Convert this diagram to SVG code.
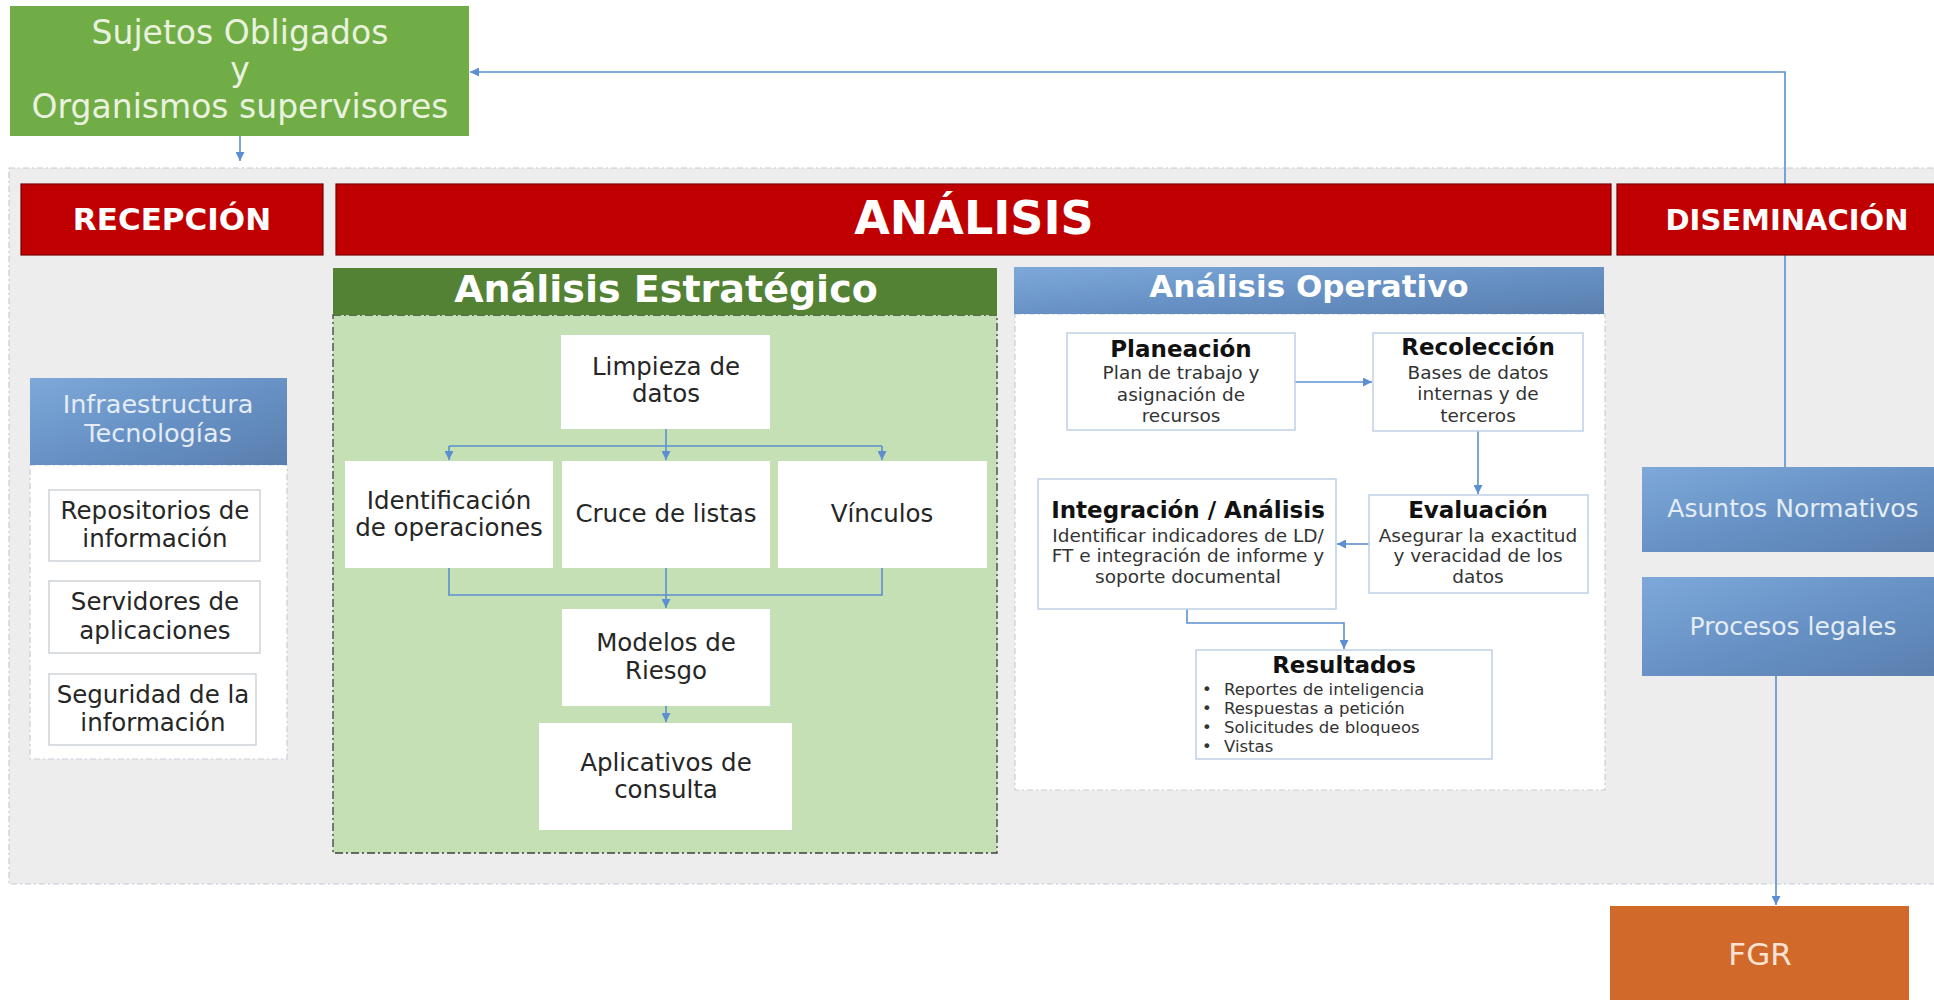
<svg xmlns="http://www.w3.org/2000/svg" width="1934" height="1000" viewBox="0 0 1934 1000">
<defs>
<linearGradient id="blueGrad" x1="0" y1="0" x2="1" y2="1">
<stop offset="0" stop-color="#7DA8D9"/>
<stop offset="0.55" stop-color="#6690C3"/>
<stop offset="1" stop-color="#5A7FAE"/>
</linearGradient>
<marker id="arr" viewBox="0 0 10 10" refX="10" refY="5" markerWidth="10" markerHeight="9" markerUnits="userSpaceOnUse" orient="auto">
<path d="M0,0 L10,5 L0,10 z" fill="#5B8FCF"/>
</marker>
<style>
text{font-family:"DejaVu Sans","Liberation Sans",sans-serif;}
.red{fill:#C00000;stroke:#7A0000;stroke-width:1.2;}
.redt{fill:#FFFFFF;font-weight:bold;text-anchor:middle;}
.wbox{fill:#FFFFFF;}
.gbox{fill:#FFFFFF;stroke:#C4C8CE;stroke-width:1.2;}
.obox{fill:#FFFFFF;stroke:#BDD0E6;stroke-width:1.5;}
.dark{fill:#262626;text-anchor:middle;}
.ttl{fill:#111111;font-weight:bold;text-anchor:middle;font-size:23px;}
.sub{fill:#333333;text-anchor:middle;font-size:18.5px;}
.blue{fill:url(#blueGrad);}
.light{fill:#E4ECF6;text-anchor:middle;}
.conn{fill:none;stroke:#5B8FCF;stroke-width:1.6;}
</style>
</defs>

<g id="fondo">
<rect x="9" y="168" width="1935" height="716" fill="#EDEDED" stroke="#C3CAD6" stroke-width="1.2" stroke-dasharray="6 3 2 3"/>
</g>

<g id="panel-infraestructura">
<rect x="30" y="465" width="257" height="294" fill="#FFFFFF" stroke="#C8CDD6" stroke-width="1.2" stroke-dasharray="6 3 2 3"/>
</g>
<g id="panel-estrategico">
<rect x="333" y="315" width="664" height="538" fill="#C5E0B4" stroke="#3F3F3F" stroke-width="1.3" stroke-dasharray="8 3 2 3"/>
</g>
<g id="panel-operativo">
<rect x="1015" y="314" width="590" height="476" fill="#FFFFFF" stroke="#C8CDD6" stroke-width="1.2" stroke-dasharray="6 3 2 3"/>
</g>

<g id="connectors">
<line class="conn" x1="240" y1="136" x2="240" y2="161" marker-end="url(#arr)"/>
<polyline class="conn" points="1785,467 1785,72 470,72" marker-end="url(#arr)"/>
<line class="conn" x1="666" y1="429" x2="666" y2="446"/>
<line class="conn" x1="449" y1="446" x2="882" y2="446"/>
<line class="conn" x1="449" y1="446" x2="449" y2="460" marker-end="url(#arr)"/>
<line class="conn" x1="666" y1="446" x2="666" y2="460" marker-end="url(#arr)"/>
<line class="conn" x1="882" y1="446" x2="882" y2="460" marker-end="url(#arr)"/>
<polyline class="conn" points="449,568 449,595 882,595 882,568"/>
<line class="conn" x1="666" y1="568" x2="666" y2="608" marker-end="url(#arr)"/>
<line class="conn" x1="666" y1="706" x2="666" y2="722" marker-end="url(#arr)"/>
<line class="conn" x1="1295" y1="382" x2="1372" y2="382" marker-end="url(#arr)"/>
<line class="conn" x1="1478" y1="431" x2="1478" y2="494" marker-end="url(#arr)"/>
<line class="conn" x1="1369" y1="544" x2="1337" y2="544" marker-end="url(#arr)"/>
<polyline class="conn" points="1187,609 1187,623 1344,623 1344,649" marker-end="url(#arr)"/>
<line class="conn" x1="1776" y1="676" x2="1776" y2="905" marker-end="url(#arr)"/>
</g>

<g id="sujetos">
<rect x="10" y="6" width="459" height="130" fill="#70AD47"/>
<text x="240" y="44" font-size="33" fill="#EAF2DF" text-anchor="middle">Sujetos Obligados</text>
<text x="240" y="81" font-size="33" fill="#EAF2DF" text-anchor="middle">y</text>
<text x="240" y="118" font-size="33" fill="#EAF2DF" text-anchor="middle">Organismos supervisores</text>
</g>

<g id="recepcion">
<rect class="red" x="21" y="184" width="302" height="71"/>
<text class="redt" x="172" y="230" font-size="31">RECEPCIÓN</text>
</g>
<g id="analisis">
<rect class="red" x="336" y="184" width="1275" height="71"/>
<text class="redt" x="974" y="234" font-size="46">ANÁLISIS</text>
</g>
<g id="diseminacion">
<rect class="red" x="1617" y="184" width="330" height="71"/>
<text class="redt" x="1787" y="230" font-size="29">DISEMINACIÓN</text>
</g>

<g id="infraestructura">
<rect class="blue" x="30" y="378" width="257" height="87"/>
<text class="light" x="158" y="413" font-size="25.5">Infraestructura</text>
<text class="light" x="158" y="442" font-size="25.5">Tecnologías</text>
</g>
<g id="repositorios">
<rect class="gbox" x="49" y="490" width="211" height="71"/>
<text class="dark" x="155" y="519" font-size="24.5">Repositorios de</text>
<text class="dark" x="155" y="547" font-size="24.5">información</text>
</g>
<g id="servidores">
<rect class="gbox" x="49" y="581" width="211" height="72"/>
<text class="dark" x="155" y="610" font-size="24.5">Servidores de</text>
<text class="dark" x="155" y="639" font-size="24.5">aplicaciones</text>
</g>
<g id="seguridad">
<rect class="gbox" x="49" y="674" width="207" height="71"/>
<text class="dark" x="153" y="703" font-size="24.5">Seguridad de la</text>
<text class="dark" x="153" y="731" font-size="24.5">información</text>
</g>

<g id="estrategico-header">
<rect x="333" y="268" width="664" height="47" fill="#548235"/>
<text x="666" y="302" font-size="38" fill="#FFFFFF" font-weight="bold" text-anchor="middle">Análisis Estratégico</text>
</g>
<g id="limpieza">
<rect class="wbox" x="561" y="335" width="209" height="94"/>
<text class="dark" x="666" y="375" font-size="24.5">Limpieza de</text>
<text class="dark" x="666" y="402" font-size="24.5">datos</text>
</g>
<g id="identificacion">
<rect class="wbox" x="345" y="461" width="208" height="107"/>
<text class="dark" x="449" y="509" font-size="24.5">Identificación</text>
<text class="dark" x="449" y="536" font-size="24.5">de operaciones</text>
</g>
<g id="cruce">
<rect class="wbox" x="562" y="461" width="208" height="107"/>
<text class="dark" x="666" y="522" font-size="24.5">Cruce de listas</text>
</g>
<g id="vinculos">
<rect class="wbox" x="778" y="461" width="209" height="107"/>
<text class="dark" x="882" y="522" font-size="24.5">Vínculos</text>
</g>
<g id="modelos">
<rect class="wbox" x="562" y="609" width="208" height="97"/>
<text class="dark" x="666" y="651" font-size="24.5">Modelos de</text>
<text class="dark" x="666" y="679" font-size="24.5">Riesgo</text>
</g>
<g id="aplicativos">
<rect class="wbox" x="539" y="723" width="253" height="107"/>
<text class="dark" x="666" y="771" font-size="24.5">Aplicativos de</text>
<text class="dark" x="666" y="798" font-size="24.5">consulta</text>
</g>

<g id="operativo-header">
<rect class="blue" x="1014" y="267" width="590" height="47"/>
<text x="1309" y="297" font-size="31" fill="#FFFFFF" font-weight="bold" text-anchor="middle">Análisis Operativo</text>
</g>
<g id="planeacion">
<rect class="obox" x="1067" y="333" width="228" height="97"/>
<text class="ttl" x="1181" y="357">Planeación</text>
<text class="sub" x="1181" y="379">Plan de trabajo y</text>
<text class="sub" x="1181" y="401">asignación de</text>
<text class="sub" x="1181" y="422">recursos</text>
</g>
<g id="recoleccion">
<rect class="obox" x="1373" y="333" width="210" height="98"/>
<text class="ttl" x="1478" y="355">Recolección</text>
<text class="sub" x="1478" y="379">Bases de datos</text>
<text class="sub" x="1478" y="400">internas y de</text>
<text class="sub" x="1478" y="422">terceros</text>
</g>
<g id="evaluacion">
<rect class="obox" x="1369" y="495" width="219" height="98"/>
<text class="ttl" x="1478" y="518">Evaluación</text>
<text class="sub" x="1478" y="542">Asegurar la exactitud</text>
<text class="sub" x="1478" y="562">y veracidad de los</text>
<text class="sub" x="1478" y="583">datos</text>
</g>
<g id="integracion">
<rect class="obox" x="1038" y="479" width="298" height="130"/>
<text class="ttl" x="1188" y="518">Integración / Análisis</text>
<text class="sub" x="1188" y="542">Identificar indicadores de LD/</text>
<text class="sub" x="1188" y="562">FT e integración de informe y</text>
<text class="sub" x="1188" y="583">soporte documental</text>
</g>
<g id="resultados">
<rect class="obox" x="1196" y="650" width="296" height="109"/>
<text class="ttl" x="1344" y="673">Resultados</text>
<g font-size="16.5" fill="#333333">
<text x="1202" y="695">•</text><text x="1224" y="695">Reportes de inteligencia</text>
<text x="1202" y="714">•</text><text x="1224" y="714">Respuestas a petición</text>
<text x="1202" y="733">•</text><text x="1224" y="733">Solicitudes de bloqueos</text>
<text x="1202" y="752">•</text><text x="1224" y="752">Vistas</text>
</g>
</g>

<g id="asuntos">
<rect class="blue" x="1642" y="467" width="300" height="85"/>
<text class="light" x="1793" y="517" font-size="25">Asuntos Normativos</text>
</g>
<g id="procesos">
<rect class="blue" x="1642" y="577" width="300" height="99"/>
<text class="light" x="1793" y="635" font-size="25">Procesos legales</text>
</g>
<g id="fgr">
<rect x="1610" y="906" width="299" height="100" fill="#D0692A"/>
<text x="1760" y="965" font-size="31" fill="#FBE3D3" text-anchor="middle">FGR</text>
</g>
</svg>
